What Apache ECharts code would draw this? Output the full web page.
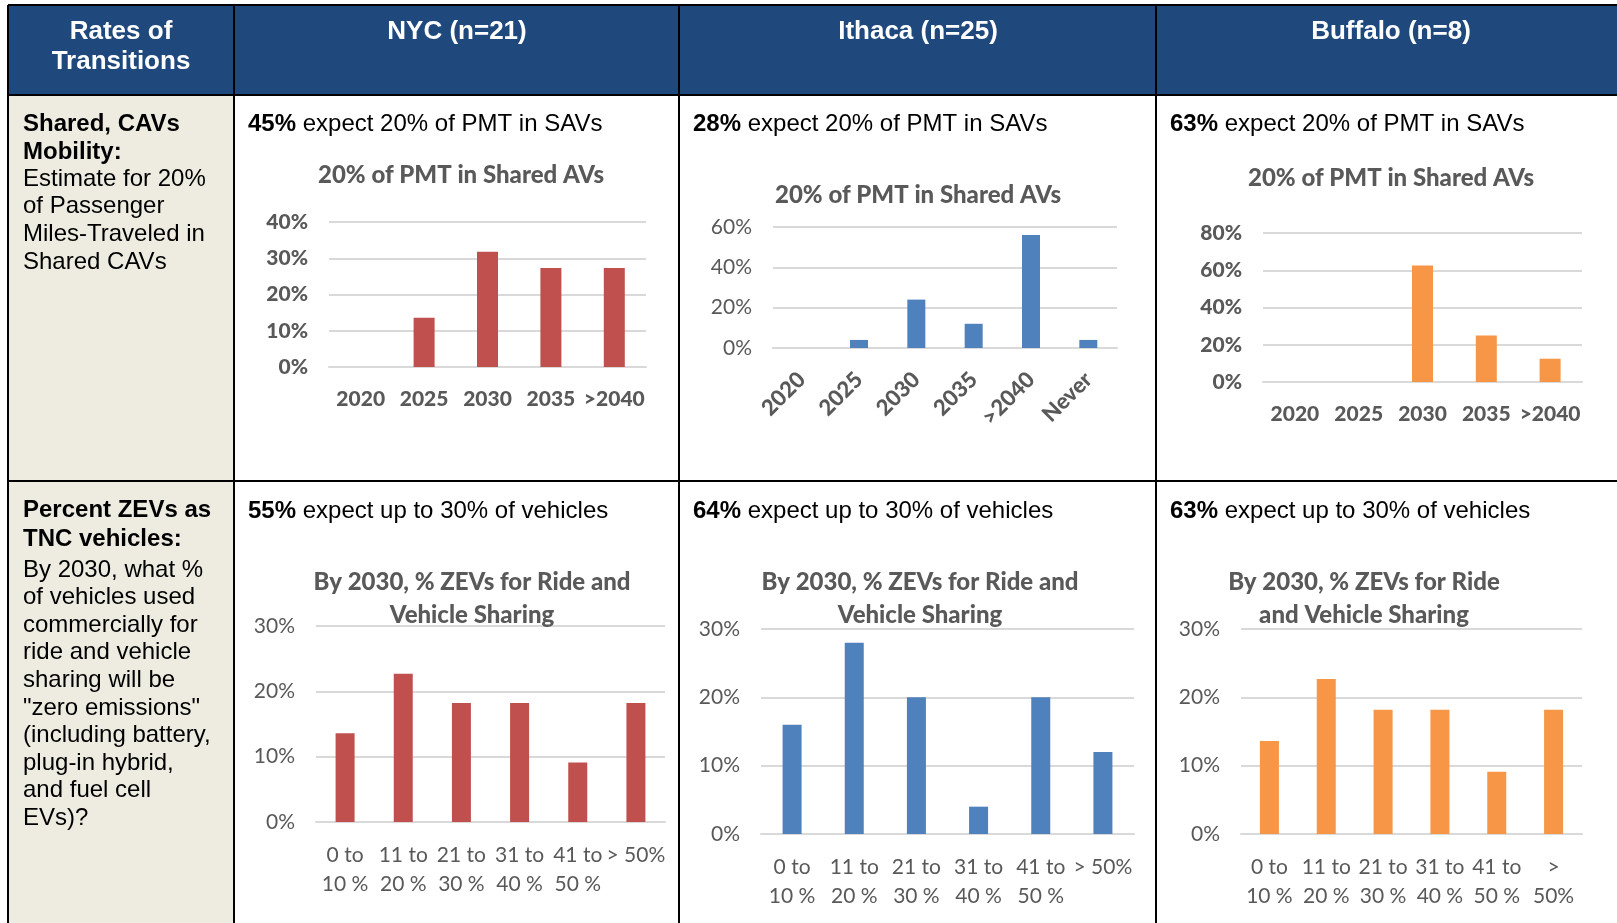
<!DOCTYPE html>
<html lang="en">
<head>
<meta charset="UTF-8">
<title>Rates of Transitions</title>
<script src="https://cdn.jsdelivr.net/npm/echarts@6/dist/echarts.min.js"></script>
<style>
  html, body { margin: 0; padding: 0; background: #fff; }
  #main { width: 1617px; height: 923px; }
</style>
</head>
<body>
<div id="main"></div>
<script>
// ---- categories ----
var yearCats = ['2020', '2025', '2030', '2035', '>2040'];
var yearCatsNever = ['2020', '2025', '2030', '2035', '>2040', 'Never'];
var zevCats = ['0 to\n10 %', '11 to\n20 %', '21 to\n30 %', '31 to\n40 %', '41 to\n50 %', '> 50%'];
var zevCatsBuffalo = ['0 to\n10 %', '11 to\n20 %', '21 to\n30 %', '31 to\n40 %', '41 to\n50 %', '>\n50%'];

// ---- share of respondents, % ----
var nycPmt = [0, 13.6, 31.8, 27.3, 27.3];
var ithacaPmt = [0, 4, 24, 12, 56, 4];
var buffaloPmt = [0, 0, 62.5, 25, 12.5];
var nycZev = [13.6, 22.7, 18.2, 18.2, 9.1, 18.2];
var ithacaZev = [16, 28, 20, 4, 20, 12];
var buffaloZev = [13.6, 22.7, 18.2, 18.2, 9.1, 18.2];

// ---- table text ----
var cityHeads = ['NYC (n=21)', 'Ithaca (n=25)', 'Buffalo (n=8)'];
var pmtNotes = ['45%', '28%', '63%'];
var zevNotes = ['55%', '64%', '63%'];
var row1Bold = ['Shared, CAVs', 'Mobility:'];
var row1Text = ['Estimate for 20%', 'of Passenger', 'Miles-Traveled in', 'Shared CAVs'];
var row2Bold = ['Percent ZEVs as', 'TNC vehicles:'];
var row2Text = ['By 2030, what %', 'of vehicles used', 'commercially for', 'ride and vehicle',
  'sharing will be', '"zero emissions"', '(including battery,', 'plug-in hybrid,',
  'and fuel cell', 'EVs)?'];

var pmtTitle = '20% of PMT in Shared AVs';
var zevTitle = 'By 2030, % ZEVs for Ride and\nVehicle Sharing';
var zevTitleB = 'By 2030, % ZEVs for Ride\nand Vehicle Sharing';

var RED = '#C0504D', BLUE = '#4F81BD', ORANGE = '#F79646';
var GREY = '#595959', GRID = '#D9D9D9';
var CHART_FONT = 'Lato';
var TABLE_FONT = '"Liberation Sans", Arial, sans-serif';
var HEAVY = 900;

var myChart = echarts.init(document.getElementById('main'));

// one entry per small chart: data + where it sits in the table
var panels = [
  { title: pmtTitle, tx: 461, ty: 175, cats: yearCats, data: nycPmt, color: RED,
    box: [329, 222, 317, 145], max: 40, step: 10, barW: 21, boldY: true, boldX: true, xMargin: 18 },
  { title: pmtTitle, tx: 918, ty: 195, cats: yearCatsNever, data: ithacaPmt, color: BLUE,
    box: [773, 227, 344, 121], max: 60, step: 20, barW: 18, boldY: false, boldX: true, rotate: 45, xMargin: 28 },
  { title: pmtTitle, tx: 1391, ty: 178, cats: yearCats, data: buffaloPmt, color: ORANGE,
    box: [1263, 233, 319, 149], max: 80, step: 20, barW: 21, boldY: true, boldX: true, xMargin: 18 },
  { title: zevTitle, tx: 472, ty: 599, cats: zevCats, data: nycZev, color: RED,
    box: [316, 626, 349, 196], max: 30, step: 10, barW: 19, boldY: false, boldX: false, xMargin: 19 },
  { title: zevTitle, tx: 920, ty: 599, cats: zevCats, data: ithacaZev, color: BLUE,
    box: [761, 629, 373, 205], max: 30, step: 10, barW: 19, boldY: false, boldX: false, xMargin: 19 },
  { title: zevTitleB, tx: 1364, ty: 599, cats: zevCatsBuffalo, data: buffaloZev, color: ORANGE,
    box: [1241, 629, 341, 205], max: 30, step: 10, barW: 19, boldY: false, boldX: false, xMargin: 19 }
];

var titles = [], grids = [], xAxes = [], yAxes = [], series = [];
panels.forEach(function (p, i) {
  var lines = p.title.split('\n').length;
  titles.push({
    text: p.title, left: p.tx, top: p.ty - lines * 33 / 2, textAlign: 'center', padding: 0,
    textStyle: { fontFamily: CHART_FONT, fontWeight: HEAVY, fontSize: 24, color: GREY, lineHeight: 33 }
  });
  grids.push({ left: p.box[0], top: p.box[1], width: p.box[2], height: p.box[3], containLabel: false });
  xAxes.push({
    type: 'category', gridIndex: i, data: p.cats,
    axisLine: { lineStyle: { color: GRID, width: 2 } },
    axisTick: { show: false },
    axisLabel: {
      interval: 0, color: GREY, fontFamily: CHART_FONT, margin: p.xMargin,
      fontWeight: p.boldX ? HEAVY : 'normal', fontSize: p.rotate ? 22 : 21,
      rotate: p.rotate || 0, lineHeight: 29
    }
  });
  yAxes.push({
    type: 'value', gridIndex: i, min: 0, max: p.max, interval: p.step,
    axisLine: { show: false }, axisTick: { show: false },
    splitLine: { lineStyle: { color: GRID, width: 2 } },
    axisLabel: {
      formatter: '{value}%', color: GREY, fontFamily: CHART_FONT, margin: 21,
      fontWeight: p.boldY ? HEAVY : 'normal', fontSize: 21
    }
  });
  series.push({
    type: 'bar', xAxisIndex: i, yAxisIndex: i, data: p.data, barWidth: p.barW,
    itemStyle: { color: p.color }, silent: true
  });
});

// ---- table drawn with graphic elements ----
var colX = [8, 234, 679, 1156, 1617];
var colMid = [121, 457, 918, 1391];
var noteX = [248, 693, 1170];
var g = [];

function txt(x, y, text, opt) {
  opt = opt || {};
  var st = {
    text: text, fill: opt.fill || '#000', textFill: opt.fill || '#000',
    fontSize: opt.size || 24, fontFamily: TABLE_FONT, fontWeight: opt.weight || 'normal',
    align: opt.align || 'left', textAlign: opt.align || 'left',
    verticalAlign: 'middle', textVerticalAlign: 'middle', legacy: false
  };
  if (opt.rich) st.rich = opt.rich;
  g.push({ type: 'text', x: x, y: y, z: 10, style: st });
}
function line(x1, y1, x2, y2) {
  g.push({ type: 'line', z: 5, shape: { x1: x1, y1: y1, x2: x2, y2: y2 },
    style: { stroke: '#000', lineWidth: 2 } });
}

g.push({ type: 'rect', z: 1, shape: { x: 8, y: 5, width: 1609, height: 90 }, style: { fill: '#1F497D' } });
g.push({ type: 'rect', z: 1, shape: { x: 8, y: 95, width: 226, height: 828 }, style: { fill: '#EEECE1' } });

line(8, 5, 1617, 5);
line(8, 95, 1617, 95);
line(8, 481, 1617, 481);
for (var c = 0; c < 4; c++) line(colX[c], 5, colX[c], 923);

txt(colMid[0], 32, 'Rates of', { fill: '#fff', weight: 'bold', size: 26, align: 'center' });
txt(colMid[0], 62, 'Transitions', { fill: '#fff', weight: 'bold', size: 26, align: 'center' });
cityHeads.forEach(function (h, i) {
  txt(colMid[i + 1], 32, h, { fill: '#fff', weight: 'bold', size: 26, align: 'center' });
});

var boldRich = { b: { fontWeight: 'bold', fontSize: 24, fontFamily: TABLE_FONT, fill: '#000' },
  n: { fontWeight: 'normal', fontSize: 24, fontFamily: TABLE_FONT, fill: '#000' } };
pmtNotes.forEach(function (v, i) {
  txt(noteX[i], 124, '{b|' + v + '}{n| expect 20% of PMT in SAVs}', { rich: boldRich });
});
zevNotes.forEach(function (v, i) {
  txt(noteX[i], 511, '{b|' + v + '}{n| expect up to 30% of vehicles}', { rich: boldRich });
});

row1Bold.forEach(function (s, i) { txt(23, 124 + i * 28, s, { weight: 'bold' }); });
row1Text.forEach(function (s, i) { txt(23, 179 + i * 27.8, s); });
row2Bold.forEach(function (s, i) { txt(23, 510 + i * 29, s, { weight: 'bold' }); });
row2Text.forEach(function (s, i) { txt(23, 570 + i * 27.6, s); });

option = {
  backgroundColor: '#fff',
  animation: false,
  title: titles,
  grid: grids,
  xAxis: xAxes,
  yAxis: yAxes,
  series: series,
  graphic: { elements: g }
};

myChart.setOption(option);
</script>
</body>
</html>
